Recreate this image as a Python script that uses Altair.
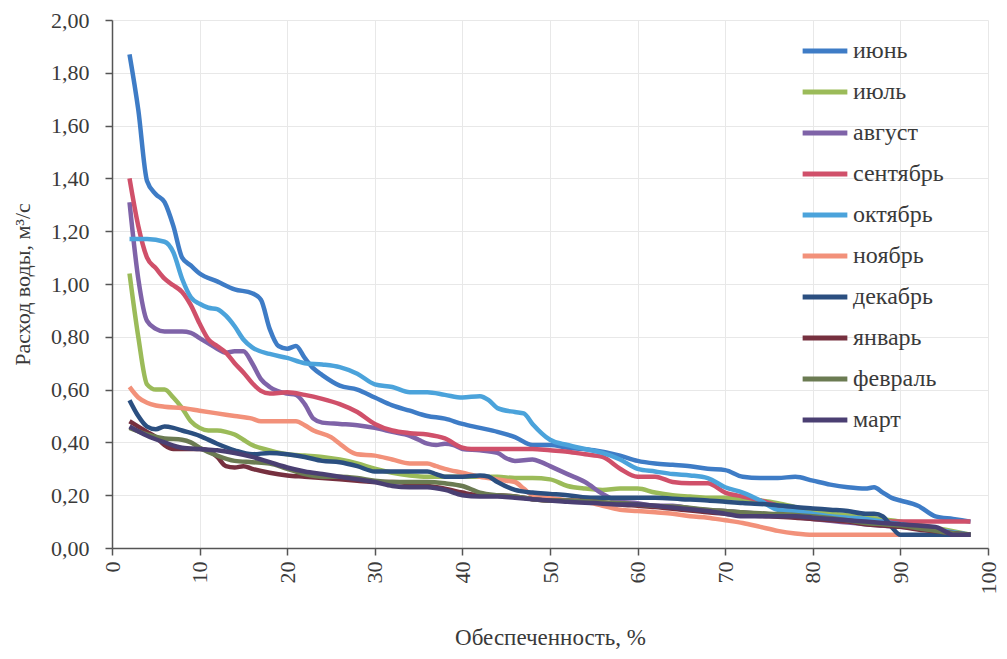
import altair as alt
import pandas as pd

months = ["июнь", "июль", "август", "сентябрь", "октябрь", "ноябрь",
          "декабрь", "январь", "февраль", "март"]
colors = ["#3E7CC6", "#9BBB59", "#7F63A8", "#D0506A", "#4BA3DB", "#F2917A",
          "#2B4F80", "#76303F", "#6B7B52", "#4A3F72"]

jun_x = [2,3,4,5,6,7,8,9,10,12,14,16,17,18,19,20,21,22,23,24,26,28,30,32,34,36,38,40,42,44,46,48,50,52,55,58,60,62,64,66,68,70,72,74,76,78,80,82,84,86,87,88,89,90,92,94,96,98]
jun_y = [1.87,1.66,1.39,1.34,1.31,1.22,1.10,1.07,1.04,1.01,0.98,0.965,0.94,0.83,0.765,0.755,0.765,0.72,0.68,0.655,0.615,0.60,0.57,0.54,0.52,0.50,0.49,0.47,0.455,0.44,0.42,0.39,0.39,0.38,0.37,0.35,0.33,0.32,0.315,0.31,0.30,0.295,0.27,0.265,0.265,0.27,0.255,0.24,0.23,0.225,0.23,0.21,0.19,0.18,0.16,0.12,0.11,0.10]

jul_x = [2,3,4,5,6,7,8,9,10,11,12,13,14,15,16,18,20,22,24,26,28,30,32,34,36,38,40,42,44,46,48,50,52,54,56,58,60,62,64,66,68,70,72,74,76,78,80,85,90,95,98]
jul_y = [1.04,0.80,0.62,0.60,0.60,0.57,0.53,0.48,0.455,0.445,0.445,0.44,0.43,0.41,0.39,0.37,0.355,0.35,0.345,0.335,0.32,0.30,0.285,0.275,0.27,0.27,0.27,0.27,0.27,0.265,0.265,0.26,0.235,0.225,0.22,0.225,0.225,0.21,0.20,0.195,0.19,0.19,0.185,0.18,0.17,0.155,0.14,0.12,0.10,0.07,0.05]

aug_x = [2,3,4,5,6,8,9,10,11,12,13,14,15,16,17,18,20,21,22,23,24,26,28,30,32,34,35,36,37,38,39,40,42,44,45,46,48,49,50,52,54,56,58,60,62,64,66,70,74,80,86,90,95,98]
aug_y = [1.31,1.02,0.86,0.83,0.82,0.82,0.815,0.795,0.775,0.755,0.74,0.745,0.745,0.70,0.64,0.61,0.585,0.58,0.545,0.49,0.475,0.47,0.465,0.455,0.44,0.425,0.41,0.395,0.39,0.395,0.39,0.375,0.37,0.36,0.34,0.33,0.335,0.325,0.31,0.28,0.25,0.205,0.175,0.17,0.16,0.16,0.15,0.14,0.13,0.11,0.09,0.08,0.06,0.05]

sep_x = [2,3,4,5,6,7,8,9,10,11,12,13,14,15,16,17,18,20,22,24,26,28,30,32,34,36,38,40,41,44,48,50,52,54,56,58,60,62,64,66,68,70,72,74,76,78,80,82,84,86,90,94,98]
sep_y = [1.40,1.22,1.10,1.06,1.02,0.995,0.97,0.92,0.85,0.79,0.765,0.74,0.70,0.665,0.625,0.595,0.585,0.59,0.58,0.565,0.545,0.515,0.47,0.445,0.435,0.43,0.415,0.38,0.375,0.375,0.375,0.37,0.365,0.355,0.345,0.30,0.27,0.27,0.25,0.245,0.245,0.21,0.195,0.18,0.16,0.14,0.12,0.11,0.10,0.10,0.10,0.10,0.10]

oct_x = [2,4,6,7,8,9,10,11,12,13,14,15,16,18,20,22,24,26,28,30,32,34,36,38,40,42,43,44,46,47,48,50,52,54,56,58,60,62,64,66,68,70,72,74,76,78,80,82,84,86,88,90,92,94,96,98]
oct_y = [1.17,1.17,1.16,1.12,1.02,0.95,0.925,0.91,0.905,0.88,0.84,0.79,0.76,0.735,0.72,0.70,0.695,0.685,0.66,0.62,0.61,0.59,0.59,0.58,0.57,0.575,0.56,0.53,0.515,0.51,0.47,0.41,0.39,0.375,0.36,0.335,0.30,0.29,0.28,0.275,0.265,0.23,0.21,0.18,0.145,0.14,0.13,0.12,0.115,0.11,0.10,0.09,0.08,0.07,0.06,0.05]

nov_x = [2,3,4,5,6,8,10,12,14,16,17,18,20,21,22,23,25,26,27,28,30,32,34,36,37,38,40,42,44,45,46,47,48,50,52,54,56,58,60,62,64,66,68,70,72,74,76,78,80,85,90]
nov_y = [0.61,0.57,0.55,0.54,0.535,0.53,0.52,0.51,0.50,0.49,0.48,0.48,0.48,0.48,0.465,0.445,0.42,0.395,0.37,0.355,0.35,0.335,0.32,0.32,0.31,0.30,0.285,0.27,0.26,0.255,0.25,0.225,0.20,0.19,0.18,0.175,0.16,0.145,0.14,0.135,0.13,0.12,0.115,0.105,0.095,0.08,0.065,0.055,0.05,0.05,0.05]

dec_x = [2,3,4,5,6,7,8,10,12,14,16,18,20,22,24,26,28,30,32,34,36,37,38,40,42,43,44,46,48,50,52,55,58,60,62,65,68,70,72,75,78,80,82,84,86,87,88,89,90,92,95,98]
dec_y = [0.56,0.50,0.46,0.45,0.46,0.455,0.445,0.425,0.395,0.37,0.355,0.36,0.355,0.345,0.33,0.325,0.31,0.29,0.29,0.29,0.29,0.28,0.27,0.27,0.275,0.27,0.25,0.22,0.21,0.205,0.20,0.19,0.19,0.19,0.19,0.185,0.18,0.175,0.17,0.165,0.155,0.15,0.145,0.14,0.13,0.13,0.12,0.08,0.05,0.05,0.05,0.05]

jan_x = [2,3,4,5,6,7,8,10,11,12,13,14,15,16,18,20,22,24,26,28,30,32,34,36,38,40,42,44,46,48,50,52,55,58,60,62,65,68,70,72,75,78,80,84,86,88,90,92,95,98]
jan_y = [0.48,0.46,0.44,0.42,0.39,0.375,0.375,0.375,0.37,0.345,0.31,0.305,0.31,0.30,0.285,0.275,0.27,0.265,0.26,0.255,0.25,0.25,0.245,0.235,0.225,0.21,0.20,0.20,0.195,0.185,0.18,0.18,0.175,0.165,0.16,0.155,0.145,0.135,0.13,0.125,0.12,0.115,0.11,0.10,0.09,0.085,0.08,0.07,0.06,0.05]

feb_x = [2,4,6,8,9,10,12,14,16,18,20,22,24,26,28,30,32,34,36,38,40,42,44,46,48,50,52,55,58,60,62,65,68,70,72,75,78,80,84,86,88,90,92,95,98]
feb_y = [0.455,0.43,0.415,0.41,0.40,0.38,0.35,0.33,0.325,0.32,0.30,0.28,0.27,0.27,0.265,0.255,0.25,0.25,0.25,0.245,0.235,0.21,0.20,0.195,0.185,0.18,0.18,0.175,0.17,0.165,0.16,0.155,0.145,0.14,0.135,0.13,0.125,0.12,0.105,0.095,0.09,0.085,0.075,0.06,0.05]

mar_x = [2,4,6,8,10,12,14,16,18,20,22,24,26,28,30,32,34,36,38,40,42,44,46,48,50,52,55,58,60,62,65,68,70,72,75,78,80,84,86,88,90,92,94,95,96,98]
mar_y = [0.46,0.425,0.40,0.38,0.375,0.37,0.36,0.345,0.325,0.305,0.29,0.28,0.27,0.26,0.25,0.235,0.23,0.23,0.22,0.20,0.195,0.195,0.19,0.185,0.18,0.175,0.17,0.165,0.165,0.16,0.15,0.14,0.13,0.12,0.12,0.12,0.115,0.105,0.10,0.095,0.09,0.085,0.08,0.065,0.05,0.05]

series = [(jun_x, jun_y), (jul_x, jul_y), (aug_x, aug_y), (sep_x, sep_y),
          (oct_x, oct_y), (nov_x, nov_y), (dec_x, dec_y), (jan_x, jan_y),
          (feb_x, feb_y), (mar_x, mar_y)]

frames = []
for m, (xs, ys) in zip(months, series):
    df = pd.DataFrame({"x": xs, "y": ys})
    df["month"] = m
    frames.append(df)
data = pd.concat(frames, ignore_index=True)

F = "Liberation Serif"
TXT = "#3a3a3a"

chart = alt.Chart(data).mark_line(strokeWidth=4.5, interpolate="monotone").encode(
    x=alt.X("x:Q",
            scale=alt.Scale(domain=[0, 100], nice=False, zero=False),
            axis=alt.Axis(values=list(range(0, 101, 10)), title="Обеспеченность, %",
                          labelAngle=-90, labelAlign="right", labelBaseline="middle",
                          labelPadding=6, titlePadding=32, tickSize=7,
                          labelFont=F, titleFont=F, labelFontSize=22, titleFontSize=23)),
    y=alt.Y("y:Q",
            scale=alt.Scale(domain=[0, 2], nice=False),
            axis=alt.Axis(values=[0, 0.2, 0.4, 0.6, 0.8, 1.0, 1.2, 1.4, 1.6, 1.8, 2.0],
                          labelExpr="replace(format(datum.value, '.2f'), '.', ',')",
                          title="Расход воды, м³/с", titlePadding=16, tickSize=7,
                          labelPadding=16, labelFont=F, titleFont=F,
                          labelFontSize=22, titleFontSize=22)),
    color=alt.Color("month:N",
                    scale=alt.Scale(domain=months, range=colors),
                    sort=months,
                    legend=alt.Legend(title=None, orient="none", legendX=688, legendY=6,
                                      symbolType="stroke", symbolSize=2000,
                                      symbolStrokeWidth=5, labelFontSize=24,
                                      labelFont=F, labelColor=TXT,
                                      labelOffset=3, rowPadding=4, padding=0)),
).properties(
    width=876, height=528,
    autosize=alt.AutoSizeParams(type="none"),
    padding={"left": 104, "top": 12, "right": 11, "bottom": 103},
).configure_axis(
    labelColor=TXT, titleColor=TXT, titleFontWeight="normal",
    domainColor="#555555", domainWidth=1.5, tickColor="#555555", tickWidth=1.5,
    gridColor="#e8e8e8", gridWidth=1,
).configure_view(stroke=None)

chart.save("out.html", embed_options={"renderer": "svg", "actions": False})
